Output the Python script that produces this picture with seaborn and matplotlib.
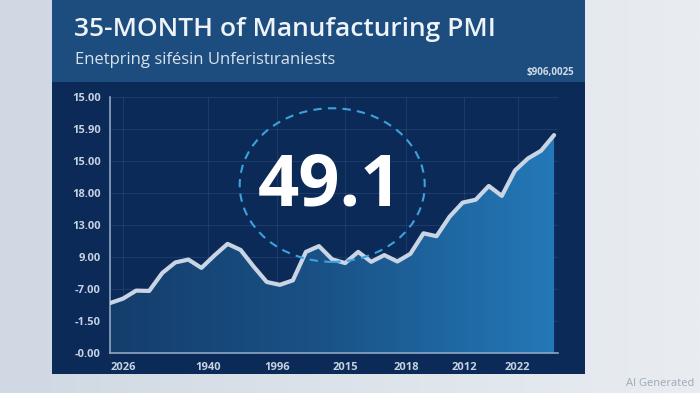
import numpy as np
import pandas as pd
import matplotlib
matplotlib.use("Agg")
import matplotlib.pyplot as plt
import seaborn as sns
from matplotlib.patches import Ellipse, Rectangle

# --- chart values ---
months = list(range(35))
pmi_level = [1.56, 1.70, 1.95, 1.94, 2.50, 2.83, 2.92, 2.66, 3.05, 3.41,
             3.22, 2.70, 2.22, 2.13, 2.27, 3.16, 3.34, 2.93, 2.81, 3.16,
             2.85, 3.06, 2.86, 3.10, 3.74, 3.65, 4.26, 4.70, 4.79, 5.22,
             4.91, 5.70, 6.08, 6.32, 6.81]
ytick_labels = ["-0.00", "-1.50", "-7.00", "9.00", "13.00",
                "18.00", "15.00", "15.90", "15.00"]
xtick_pos = [1.0, 7.5, 12.8, 18.0, 22.7, 27.1, 31.2]
xtick_labels = ["2026", "1940", "1996", "2015", "2018", "2012", "2022"]
headline = "49.1"
title = "35-MONTH of Manufacturing PMI"
subtitle = "Enetpring sifésin Unferistıraniests"
corner_label = "$906,0025"

df = pd.DataFrame({"month": months, "pmi": pmi_level})

sns.set_style("dark")
plt.rcParams["font.family"] = ["Open Sans", "DejaVu Sans"]

W, H = 700, 393
fig = plt.figure(figsize=(7, 3.93), dpi=100)

# light studio background
bg = fig.add_axes([0, 0, 1, 1])
grad = np.linspace(0, 1, 256).reshape(1, -1)
bg.imshow(np.vstack([grad] * 2), aspect="auto", extent=[0, 1, 0, 1],
          cmap=matplotlib.colors.LinearSegmentedColormap.from_list(
              "bg", ["#cfd8e3", "#dde3ea", "#e9edf2"]))
bg.set_xlim(0, 1)
bg.set_ylim(0, 1)
bg.axis("off")

def fx(px):
    return px / W

def fy(py):
    return 1 - py / H

# screen panel
bg.add_patch(Rectangle((fx(52), fy(374)), fx(585) - fx(52), fy(0) - fy(374),
                       facecolor="#0c2a58", edgecolor="none"))
bg.add_patch(Rectangle((fx(52), fy(82)), fx(585) - fx(52), fy(0) - fy(82),
                       facecolor="#1d4c7e", edgecolor="none"))

bg.text(fx(74), fy(30), title, color="#eef3f8", fontsize=19,
        fontweight="semibold", va="center", ha="left")
bg.text(fx(75), fy(60), subtitle, color="#d9e3ee", fontsize=12,
        va="center", ha="left")
bg.text(fx(574), fy(72), corner_label, color="#d0dbe8", fontsize=7,
        fontweight="bold", va="center", ha="right")
bg.text(fx(694), fy(383), "AI Generated", color="#9ea9b5", fontsize=8,
        va="center", ha="right")

# chart
ax = fig.add_axes([fx(110), fy(353), fx(558) - fx(110), fy(97) - fy(353)])
ax.set_facecolor("none")
ax.set_xlim(0, 34.3)
ax.set_ylim(0, 8)

# gradient fill under the line
cmap_fill = matplotlib.colors.LinearSegmentedColormap.from_list(
    "fill", ["#143d6c", "#1a5388", "#2479b8"])
im = ax.imshow(np.vstack([grad] * 2), aspect="auto", extent=[0, 34, 0, 8],
               cmap=cmap_fill, zorder=1)
poly = ax.fill_between(df["month"], df["pmi"], 0, color="none")
clip = poly.get_paths()[0]
im.set_clip_path(clip, transform=ax.transData)

sns.lineplot(data=df, x="month", y="pmi", ax=ax, color="#c9d5e4",
             linewidth=3, zorder=3, solid_joinstyle="round",
             solid_capstyle="round")

ax.set_yticks(range(9))
ax.set_yticklabels(ytick_labels)
ax.set_xticks(xtick_pos)
ax.set_xticklabels(xtick_labels)
ax.tick_params(axis="both", colors="#c5d2e2", labelsize=8, length=3)
for lab in ax.get_xticklabels() + ax.get_yticklabels():
    lab.set_fontweight("bold")
ax.set_xlabel("")
ax.set_ylabel("")
ax.grid(True, color="#2a4f7e", linewidth=0.6, alpha=0.6)
for side in ["top", "right"]:
    ax.spines[side].set_visible(False)
for side in ["left", "bottom"]:
    ax.spines[side].set_color("#8fa6c2")
    ax.spines[side].set_linewidth(1.2)

ax.add_patch(Ellipse((0.496, 0.656), 0.413, 0.60, transform=ax.transAxes,
                     fill=False, edgecolor="#3aa2dc", linestyle=(0, (4, 3)),
                     linewidth=1.5, zorder=4))
ax.text(0.49, 0.65, headline, transform=ax.transAxes, color="white",
        fontsize=52, fontweight="bold", ha="center", va="center", zorder=5)

fig.savefig("out.png", dpi=100)
